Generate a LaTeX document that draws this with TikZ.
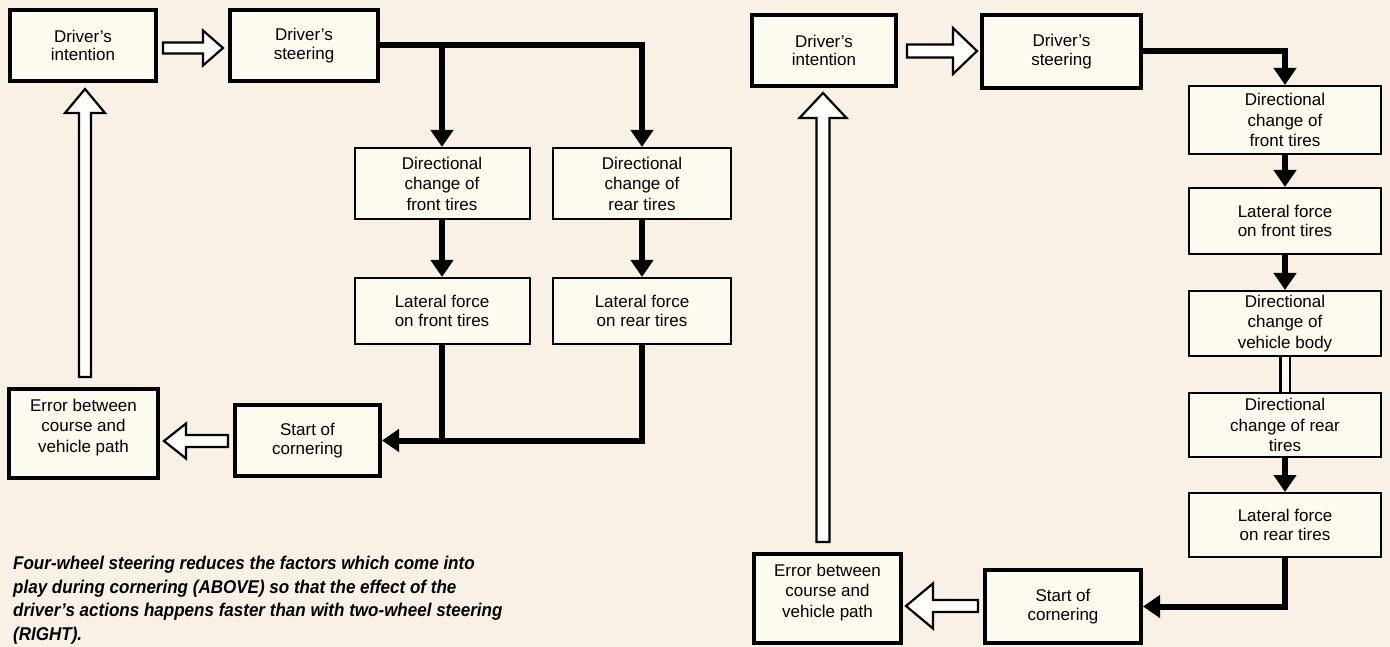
\documentclass[tikz,border=0pt]{standalone}
\usepackage{fontspec}
\setmainfont{Liberation Sans}
\newfontfamily\capfont[FakeStretch=0.92]{Liberation Sans}
\usetikzlibrary{arrows.meta,calc}
\definecolor{bgcol}{HTML}{F9F1E5}
\definecolor{boxfill}{HTML}{FDFAEF}
\newcommand\hollowH[5]{\draw[hollow] ($(#1)+(0,-#3)$) -- ($(#2)+(#5,-#3)$) -- ($(#2)+(#5,-#4)$) -- (#2) -- ($(#2)+(#5,#4)$) -- ($(#2)+(#5,#3)$) -- ($(#1)+(0,#3)$) -- cycle;}
\newcommand\hollowV[5]{\draw[hollow] ($(#1)+(-#3,0)$) -- ($(#2)+(-#3,#5)$) -- ($(#2)+(-#4,#5)$) -- (#2) -- ($(#2)+(#4,#5)$) -- ($(#2)+(#3,#5)$) -- ($(#1)+(#3,0)$) -- cycle;}
\tikzset{
  box/.style={draw=black, fill=boxfill, align=center, inner sep=0pt, font=\fontsize{17}{18.5}\selectfont},
  heavy/.style={box, line width=4pt},
  light/.style={box, line width=2pt},
  three/.style={font=\fontsize{17}{20.5}\selectfont},
  conn/.style={line width=6pt, -{Triangle[width=22pt,length=17pt]}},
  plain/.style={line width=6pt},
  hollow/.style={draw=black, line width=2.2pt, fill=white!60!boxfill, line join=miter},
}
\begin{document}
\begin{tikzpicture}[x=1pt,y=-1pt]
\fill[bgcol] (0,0) rectangle (1390,647);
\useasboundingbox (0,0) rectangle (1390,647);

% ---------------- left diagram (four-wheel steering)
\node[heavy, minimum width=146pt, minimum height=71pt] (LI) at (83,45.5) {Driver’s\\intention};
\node[heavy, minimum width=148pt, minimum height=71pt] (LS) at (304,45.5) {Driver’s\\steering};
\node[light, three, minimum width=175pt, minimum height=71pt] (LDF) at (442,183.5) {Directional\\change of\\front tires};
\node[light, three, minimum width=178pt, minimum height=71pt] (LDR) at (642,183.5) {Directional\\change of\\rear tires};
\node[light, minimum width=175pt, minimum height=66pt] (LLF) at (442,311) {Lateral force\\on front tires};
\node[light, minimum width=178pt, minimum height=66pt] (LLR) at (642,311) {Lateral force\\on rear tires};
\node[heavy, minimum width=145pt, minimum height=71pt] (LSC) at (307.5,440.5) {Start of\\cornering};
\node[heavy, three, text depth=16pt, minimum width=149pt, minimum height=89pt] (LE) at (83.5,433.5) {Error between\\course and\\vehicle path};

\draw[conn] (LS.east) -- (LS.east -| LDR.north) -- (LDR.north);
\draw[conn] (LS.east -| LDF.north) -- (LDF.north);
\draw[conn] (LDF.south) -- (LLF.north);
\draw[conn] (LDR.south) -- (LLR.north);
\draw[conn] (LLR.south) -- (LLR.south |- LSC.east) -- (LSC.east);
\draw[plain] (LLF.south) -- (LLF.south |- LSC.east);

\coordinate (ha1) at (163,48);   \coordinate (ha2) at (223,48);
\coordinate (hb1) at (228,441);  \coordinate (hb2) at (164,441);
\coordinate (vc1) at (85,377);   \coordinate (vc2) at (85,89);
\hollowH{ha1}{ha2}{5.5}{17.5}{-20}
\hollowH{hb1}{hb2}{6}{17.5}{22}
\hollowV{vc1}{vc2}{6}{20}{24}

% ---------------- right diagram (two-wheel steering)
\node[heavy, minimum width=144pt, minimum height=71pt] (RI) at (824,50.5) {Driver’s\\intention};
\node[heavy, minimum width=159pt, minimum height=73pt] (RS) at (1061.5,51.5) {Driver’s\\steering};
\node[light, three, minimum width=192pt, minimum height=68pt] (RDF) at (1285,120) {Directional\\change of\\front tires};
\node[light, minimum width=192pt, minimum height=66pt] (RLF) at (1285,221) {Lateral force\\on front tires};
\node[light, three, minimum width=192pt, minimum height=65pt] (RDB) at (1285,323.5) {Directional\\change of\\vehicle body};
\node[light, three, minimum width=192pt, minimum height=64pt] (RDR) at (1285,425) {Directional\\change of rear\\tires};
\node[light, minimum width=192pt, minimum height=64pt] (RLR) at (1285,525) {Lateral force\\on rear tires};
\node[heavy, minimum width=156pt, minimum height=73pt] (RSC) at (1063,606.5) {Start of\\cornering};
\node[heavy, three, text depth=16pt, minimum width=147pt, minimum height=89pt] (RE) at (827.5,598.5) {Error between\\course and\\vehicle path};

\draw[conn] (RS.east) -- (RS.east -| RDF.north) -- (RDF.north);
\draw[conn] (RDF.south) -- (RLF.north);
\draw[conn] (RLF.south) -- (RDB.north);
\draw[double=boxfill, double distance=7pt, line width=2.5pt] (RDB.south) -- (RDR.north);
\draw[conn] (RDR.south) -- (RLR.north);
\draw[conn] (RLR.south) -- (RLR.south |- RSC.east) -- (RSC.east);

\coordinate (hd1) at (907,51);   \coordinate (hd2) at (977,51);
\coordinate (he1) at (978,606);  \coordinate (he2) at (906,606);
\coordinate (vf1) at (823,542);  \coordinate (vf2) at (823,93);
\hollowH{hd1}{hd2}{6.5}{23}{-24}
\hollowH{he1}{he2}{6}{22.5}{27}
\hollowV{vf1}{vf2}{6.5}{23.5}{25}

% ---------------- caption
\node[anchor=north west, align=left, inner sep=0pt,
      font=\capfont\bfseries\itshape\fontsize{18.5}{23.5}\selectfont] (cap) at (13,556)
  {Four-wheel steering reduces the factors which come into\\
   play during cornering (ABOVE) so that the effect of the\\
   driver’s actions happens faster than with two-wheel steering\\
   (RIGHT).};
\end{tikzpicture}
\end{document}
